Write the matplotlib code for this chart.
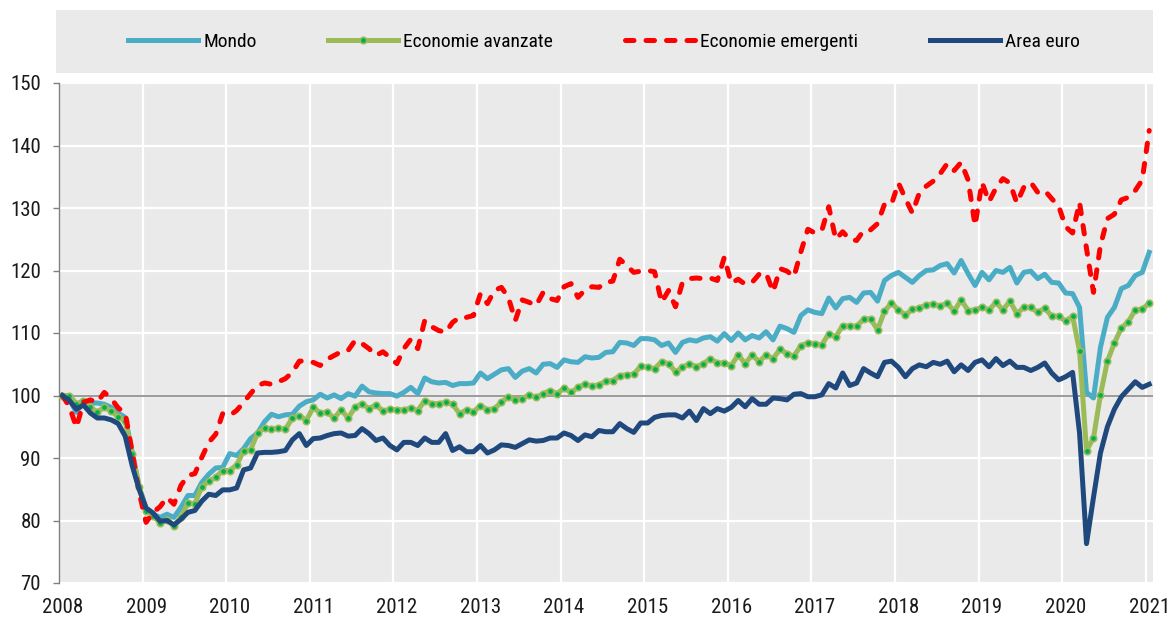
import numpy as np
import matplotlib
matplotlib.use("Agg")
import matplotlib.pyplot as plt
from matplotlib.patches import Rectangle

plt.rcParams["font.family"] = ["Roboto Condensed", "DejaVu Sans"]

# monthly index, Jan 2008 = 100 (Jan 2008 .. Jan 2021)
mondo = [
    100, 99.4, 97.3, 99.0, 98.8, 98.8, 98.6, 98.1, 97.2, 96.5, 91.0, 85.5,
    81.9, 81.0, 80.5, 81.0, 80.5, 82.1, 84.0, 84.0, 86.1, 87.4, 88.4, 88.5,
    90.7, 90.4, 91.5, 93.1, 94.0, 95.8, 97.0, 96.6, 96.9, 97.0, 98.3, 99.0,
    99.3, 100.2, 99.6, 100.1, 99.5, 100.3, 99.9, 101.5, 100.6, 100.4, 100.3, 100.3,
    99.9, 100.5, 101.3, 100.3, 102.8, 102.2, 102.0, 102.1, 101.6, 101.9, 101.9, 102.0,
    103.6, 102.7, 103.4, 104.1, 104.3, 102.9, 103.9, 104.3, 103.6, 105.0, 105.1, 104.5,
    105.7, 105.4, 105.3, 106.2, 106.0, 106.1, 106.9, 107.0, 108.5, 108.4, 108.0, 109.1,
    109.1, 108.9, 108.0, 108.4, 106.9, 108.5, 108.9, 108.7, 109.2, 109.4, 108.7, 109.9,
    108.8, 110.0, 108.9, 109.6, 109.2, 110.2, 108.9, 111.1, 110.7, 110.1, 112.8, 113.7,
    113.3, 113.1, 115.6, 114.0, 115.5, 115.7, 114.9, 116.4, 116.5, 115.1, 118.4, 119.2,
    119.7, 118.9, 118.1, 119.2, 120.0, 120.1, 120.8, 121.1, 119.6, 121.6, 119.5, 117.6,
    119.7, 118.5, 120.0, 119.7, 120.5, 118.0, 119.7, 119.9, 118.7, 119.4, 118.1, 118.0,
    116.4, 116.3, 114.1, 100.5, 99.6, 107.7, 112.5, 114.1, 117.1, 117.6, 119.2, 119.7,
    122.9,
]

avanzate = [
    100, 100, 98.7, 99.1, 98.1, 97.4, 98.1, 97.5, 96.6, 95.9, 90.7, 85.3,
    81.6, 80.8, 79.6, 80.1, 79.1, 80.5, 82.8, 82.7, 85.4, 86.3, 86.9, 88.0,
    88.0, 88.9, 91.1, 91.3, 94.0, 94.8, 94.6, 94.8, 94.6, 96.4, 96.8, 96.0,
    98.1, 97.2, 97.3, 96.4, 97.7, 96.4, 98.1, 98.7, 97.9, 98.5, 97.5, 97.8,
    97.7, 97.7, 98.0, 97.6, 99.2, 98.7, 98.7, 98.9, 98.6, 97.1, 97.7, 97.4,
    98.4, 97.7, 97.9, 98.9, 99.8, 99.3, 99.5, 100.1, 99.7, 100.3, 100.8, 100.3,
    101.2, 100.5, 101.3, 101.8, 101.5, 101.7, 102.3, 102.4, 103.2, 103.3, 103.4, 104.7,
    104.5, 104.3, 105.4, 105.1, 103.8, 104.5, 105.1, 104.6, 105.1, 105.9, 105.2, 105.2,
    104.8, 106.5, 105.1, 106.5, 105.4, 106.5, 105.9, 107.4, 106.7, 106.3, 108.0, 108.4,
    108.3, 108.1, 109.9, 109.4, 111.2, 111.1, 111.1, 112.2, 112.3, 110.5, 113.5, 114.8,
    113.7, 112.9, 113.8, 114.0, 114.5, 114.6, 114.3, 114.8, 113.5, 115.3, 113.6, 113.7,
    114.1, 113.7, 114.9, 113.7, 115.1, 113.1, 114.1, 114.1, 113.3, 114.0, 112.7, 112.7,
    111.9, 112.7, 107.1, 91.2, 93.2, 100.1, 105.5, 108.4, 110.8, 111.8, 113.7, 113.8,
    114.8,
]

emergenti = [
    100, 98.2, 94.9, 98.9, 99.3, 98.9, 100.5, 99.5, 98.0, 97.2, 91.0, 84.5,
    79.7, 81.3, 82.2, 83.7, 82.6, 85.6, 87.2, 87.5, 90.1, 92.5, 93.8, 97.1,
    96.8, 97.6, 98.9, 100.3, 101.6, 102.0, 101.8, 102.2, 102.7, 103.7, 105.5, 105.5,
    105.3, 104.8, 105.8, 106.4, 107.0, 107.2, 108.8, 108.3, 107.5, 106.4, 107.0, 106.1,
    105.1, 107.5, 109.0, 107.5, 112.0, 111.0, 110.4, 110.1, 111.7, 112.5, 112.5, 112.8,
    116.3, 114.7, 116.8, 117.3, 115.7, 112.0, 115.3, 114.9, 114.4, 116.5, 115.5, 115.2,
    117.4, 117.9, 115.7, 116.9, 117.4, 117.3, 118.1, 118.3, 121.8, 120.8, 119.7, 119.9,
    120.0, 119.8, 114.9, 116.8, 114.2, 118.1, 118.7, 118.8, 118.7, 118.8, 118.4, 122.1,
    118.0, 118.6, 117.8, 118.1, 119.4, 119.6, 116.6, 120.3, 119.9, 119.0, 123.0, 126.6,
    126.0, 126.4, 130.2, 125.0, 126.2, 125.0, 124.8, 126.4, 126.5, 127.5, 130.6, 130.6,
    134.0, 131.5, 129.2, 132.4, 133.5, 134.3, 135.5, 137.1, 136.0, 137.3, 134.5, 127.2,
    134.1, 131.0, 133.2, 134.7, 134.0, 130.8, 133.3, 134.1, 132.5, 132.8, 131.5, 130.3,
    127.0, 126.0, 130.9, 123.5, 116.5, 124.0, 128.3, 129.0, 131.3, 131.7, 132.8, 134.5,
    142.4,
]

area_euro = [
    100, 99.2, 97.8, 98.5, 97.2, 96.4, 96.4, 96.1, 95.5, 93.5, 88.8, 85.0,
    82.0, 81.2, 79.9, 80.0, 79.3, 80.2, 81.3, 81.6, 83.1, 84.2, 84.0, 84.9,
    84.9, 85.2, 88.1, 88.4, 90.8, 90.9, 90.9, 91.0, 91.2, 92.9, 93.9, 92.0,
    93.1, 93.2, 93.6, 93.9, 94.0, 93.5, 93.6, 94.7, 93.9, 92.8, 93.2, 92.0,
    91.3, 92.5, 92.5, 92.0, 93.2, 92.5, 92.5, 93.9, 91.2, 91.8, 91.0, 91.0,
    92.0, 90.8, 91.3, 92.1, 92.0, 91.7, 92.3, 92.9, 92.7, 92.8, 93.2, 93.2,
    94.0, 93.6, 92.8, 93.7, 93.4, 94.4, 94.2, 94.2, 95.5, 94.7, 94.1, 95.6,
    95.6, 96.5, 96.8, 96.9, 96.9, 96.4, 97.5, 96.0, 97.9, 97.1, 97.9, 97.5,
    98.1, 99.2, 98.2, 99.5, 98.6, 98.6, 99.6, 99.5, 99.3, 100.2, 100.3, 99.8,
    99.8, 100.1, 101.9, 101.2, 103.6, 101.6, 102.0, 104.3, 103.6, 103.0, 105.3, 105.5,
    104.5, 103.0, 104.3, 104.9, 104.6, 105.3, 105.0, 105.5, 103.8, 104.9, 104.0, 105.3,
    105.7, 104.6, 105.9, 104.8, 105.5, 104.5, 104.5, 104.0, 104.5, 105.2, 103.6, 102.5,
    103.0, 103.7, 94.0, 76.3, 83.7, 90.8, 95.0, 97.8, 99.8, 101.0, 102.2, 101.3,
    101.8,
]

years = list(range(2008, 2022))
months = 2008 + (np.arange(len(mondo)) + 0.5) / 12

fig = plt.figure(figsize=(11.7, 6.21), dpi=100)
ax = fig.add_axes([59 / 1170, 38 / 621, 1094 / 1170, 500 / 621])
ax.set_facecolor("#EAEAEA")

# ── series ──
ax.plot(months, mondo, color="#4BACC6", lw=3.6, zorder=3, label="Mondo")
ax.plot(months, avanzate, color="#9BBB59", lw=3.6, marker="o", ms=4.6,
        mfc="#00B050", mec="#9BBB59", mew=1.2, zorder=4, label="Economie avanzate")
ax.plot(months, emergenti, color="#FF0000", lw=3.6, dashes=(1.7, 2.4),
        dash_capstyle="round", zorder=5, label="Economie emergenti")
ax.plot(months, area_euro, color="#1F497D", lw=3.6, zorder=6, label="Area euro")

ax.axhline(100, color="#808080", lw=1.1, zorder=2)

# ── axes ──
ax.set_xlim(2008, 2021.087)
ax.set_ylim(70, 150)
ax.set_yticks(range(70, 151, 10))
ax.set_xticks(years)
ax.set_xticklabels([])
ax.set_xticks([y + 0.5 / 12 for y in years], minor=True)
ax.set_xticklabels([str(y) for y in years], minor=True)
ax.tick_params(axis="x", which="both", length=0, pad=11, labelsize=15, colors="#1a1a1a")
ax.tick_params(axis="y", length=4, width=1, color="#808080", pad=9, labelsize=15,
               labelcolor="#1a1a1a")
ax.grid(True, which="major", color="white", lw=1.6)
ax.set_axisbelow(True)
for s in ["top", "right", "bottom"]:
    ax.spines[s].set_visible(False)
ax.spines["left"].set_color("#808080")
ax.spines["left"].set_linewidth(1)

# ── legend ──
fig.patches.append(Rectangle((56 / 1170, 1 - 73 / 621), 1097 / 1170, 63 / 621,
                             transform=fig.transFigure, facecolor="#EAEAEA",
                             edgecolor="none", zorder=0))
fig.legend(loc="center left", bbox_to_anchor=(128 / 1170, 1 - 42 / 621), ncol=4,
           frameon=False, borderpad=0, borderaxespad=0, fontsize=14,
           handlelength=3.6, handletextpad=0.26, columnspacing=3.7, numpoints=1)

fig.savefig("out.png", dpi=100)
